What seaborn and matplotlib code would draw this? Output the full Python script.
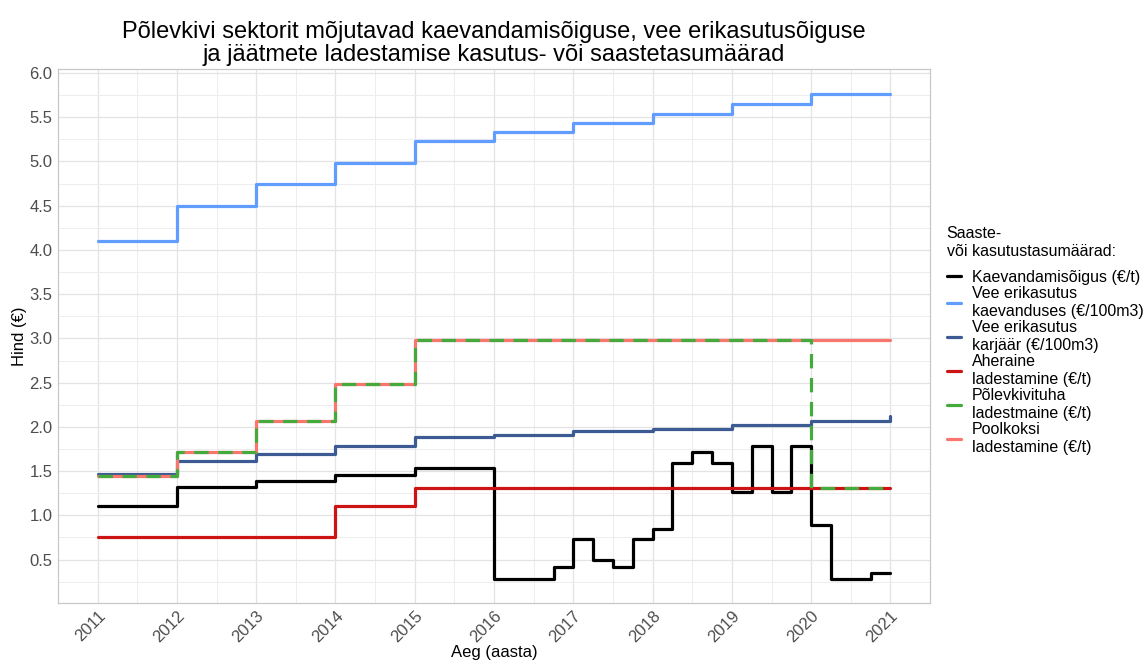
import pandas as pd
import matplotlib.pyplot as plt
import seaborn as sns
from matplotlib.lines import Line2D
from matplotlib.ticker import MultipleLocator

# aastad
years = list(range(2011, 2022))

# kaevandamisõigus - alates 2016 kvartalite kaupa
kaev_x = [2011, 2012, 2013, 2014, 2015,
          2016, 2016.25, 2016.5, 2016.75,
          2017, 2017.25, 2017.5, 2017.75,
          2018, 2018.25, 2018.5, 2018.75,
          2019, 2019.25, 2019.5, 2019.75,
          2020, 2020.25, 2020.5, 2020.75, 2021]
kaev_y = [1.10, 1.32, 1.39, 1.46, 1.54,
          0.28, 0.28, 0.28, 0.42,
          0.73, 0.49, 0.42, 0.73,
          0.85, 1.59, 1.72, 1.59,
          1.26, 1.78, 1.26, 1.78,
          0.89, 0.28, 0.28, 0.35, 0.35]

vee_kaevandus = [4.10, 4.50, 4.74, 4.98, 5.23, 5.33, 5.43, 5.54, 5.65, 5.76, 5.76]
vee_karjaar = [1.47, 1.61, 1.69, 1.78, 1.88, 1.91, 1.95, 1.98, 2.02, 2.07, 2.12]
aheraine = [0.76, 0.76, 0.76, 1.10, 1.31, 1.31, 1.31, 1.31, 1.31, 1.31, 1.31]
tuhk = [1.44, 1.72, 2.07, 2.49, 2.98, 2.98, 2.98, 2.98, 2.98, 1.31, 1.31]
poolkoks = [1.44, 1.72, 2.07, 2.49, 2.98, 2.98, 2.98, 2.98, 2.98, 2.98, 2.98]

labels = ["Kaevandamisõigus (€/t)",
          "Vee erikasutus\nkaevanduses (€/100m3)",
          "Vee erikasutus\nkarjäär (€/100m3)",
          "Aheraine\nladestamine (€/t)",
          "Põlevkivituha\nladestmaine (€/t)",
          "Poolkoksi\nladestamine (€/t)"]
colors = ["#000000", "#619CFF", "#3B5B92", "#CC1414", "#44AA3C", "#F8766D"]

sns.set_style("white")
plt.rcParams['font.family'] = ['Liberation Sans', 'DejaVu Sans']
plt.rcParams['text.color'] = 'black'
plt.rcParams['axes.labelcolor'] = 'black'

fig = plt.figure(figsize=(11.46, 6.64), dpi=100)
ax = fig.add_axes([0.0506, 0.092, 0.761, 0.804])

lw = 2.3
series = [(kaev_x, kaev_y, 0), (years, vee_kaevandus, 1), (years, vee_karjaar, 2),
          (years, aheraine, 3), (years, poolkoks, 5), (years, tuhk, 4)]
for xs, ys, i in series:
    sns.lineplot(x=xs, y=ys, color=colors[i], lw=lw, drawstyle='steps-post',
                 errorbar=None, legend=False, ax=ax)
    if i == 4:
        ax.lines[-1].set_dashes((4.5, 3))

ax.set_xlim(2010.5, 2021.5)
ax.set_ylim(0.01, 6.045)
ax.set_xticks(years)
ax.xaxis.set_minor_locator(MultipleLocator(0.5))
ax.yaxis.set_minor_locator(MultipleLocator(0.25))
ax.set_yticks([0.5 * k for k in range(1, 13)])
ax.set_yticklabels([f"{0.5 * k:.1f}" for k in range(1, 13)])
ax.grid(which='major', color='#E3E3E3', lw=0.9)
ax.grid(which='minor', color='#EDEDED', lw=0.7)
ax.set_axisbelow(True)
for s in ax.spines.values():
    s.set_color('#C8C8C8')
    s.set_linewidth(0.9)
ax.tick_params(axis='both', which='major', length=2.5, color='#B3B3B3', pad=1.5,
               labelsize=12, labelcolor='#4D4D4D')
ax.tick_params(which='minor', length=0)
plt.setp(ax.get_xticklabels(), rotation=45, ha='right', rotation_mode='anchor')

ax.set_xlabel("Aeg (aasta)", fontsize=12, labelpad=0)
ax.set_ylabel("Hind (€)", fontsize=12, labelpad=2)
ax.set_title("Põlevkivi sektorit mõjutavad kaevandamisõiguse, vee erikasutusõiguse\n"
             "ja jäätmete ladestamise kasutus- või saastetasumäärad",
             fontsize=17, pad=6, linespacing=1.05, color='black')

handles = [Line2D([0], [0], color=c, lw=lw) for c in colors]
leg = fig.legend(handles, labels, title="Saaste-\nvõi kasutustasumäärad:",
                 loc='center left', bbox_to_anchor=(0.819, 0.487),
                 frameon=False, fontsize=11.5, title_fontsize=11.5,
                 handlelength=0.9, handletextpad=0.7, labelspacing=0.1,
                 borderpad=0, alignment='left')
leg._legend_box.sep = 8

fig.savefig("out.png", dpi=100)
